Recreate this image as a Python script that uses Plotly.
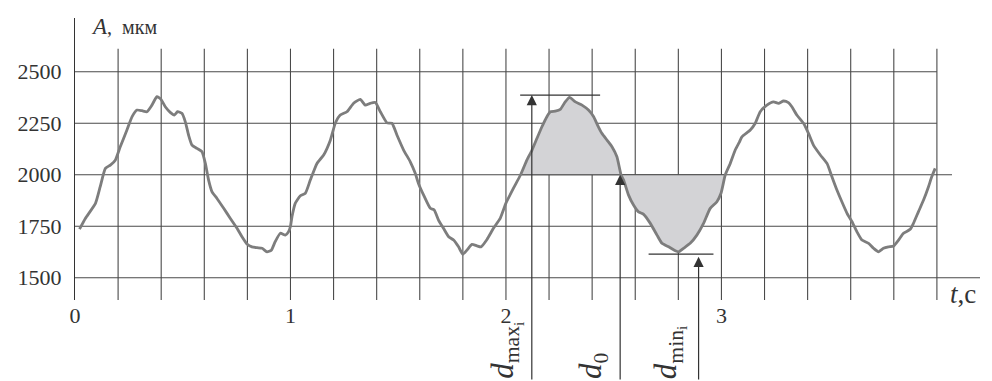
import plotly.graph_objects as go

# ---------------- data ----------------
t_vals = [0.021, 0.048, 0.095, 0.117, 0.141, 0.164, 0.187, 0.210, 0.241, 0.265, 0.288, 0.311, 0.334,
          0.357, 0.380, 0.399, 0.419, 0.442, 0.461, 0.476, 0.496, 0.512, 0.527, 0.543, 0.566, 0.589,
          0.605, 0.620, 0.636, 0.659, 0.690, 0.721, 0.752, 0.775, 0.798, 0.821, 0.845, 0.868, 0.891,
          0.911, 0.929, 0.953, 0.976, 0.991, 1.000,
          1.007, 1.022, 1.045, 1.069, 1.092, 1.123, 1.154, 1.185, 1.208, 1.231, 1.262, 1.293, 1.324,
          1.347, 1.370, 1.394, 1.417, 1.448, 1.471, 1.494, 1.525, 1.556, 1.579, 1.594, 1.618, 1.649,
          1.667, 1.687, 1.710, 1.734, 1.757, 1.780, 1.800, 1.819, 1.842, 1.865, 1.884, 1.912, 1.942,
          1.974, 2.000, 2.035, 2.068,
          2.097, 2.121, 2.144, 2.167, 2.190, 2.206, 2.229, 2.252, 2.275, 2.295, 2.322, 2.353, 2.383,
          2.407, 2.425, 2.445, 2.469, 2.492, 2.515, 2.534, 2.546, 2.569, 2.592, 2.615, 2.639, 2.670,
          2.701, 2.724, 2.755, 2.786, 2.801, 2.824, 2.855, 2.886, 2.917, 2.948, 2.979, 2.998, 3.018,
          3.041, 3.064, 3.084,
          3.095, 3.134, 3.157, 3.180, 3.211, 3.242, 3.265, 3.288, 3.311, 3.327, 3.350, 3.381, 3.404,
          3.427, 3.459, 3.490, 3.513, 3.536, 3.559, 3.583, 3.606, 3.629, 3.652, 3.683, 3.706, 3.729,
          3.752, 3.775, 3.799, 3.822, 3.845, 3.876, 3.891, 3.914, 3.938, 3.961, 3.976, 3.992]
a_vals = [1736, 1788, 1861, 1942, 2031, 2047, 2071, 2136, 2217, 2282, 2314, 2311, 2306,
          2338, 2379, 2366, 2330, 2303, 2290, 2306, 2298, 2257, 2193, 2144, 2128, 2112,
          2055, 1974, 1917, 1885, 1837, 1788, 1740, 1699, 1664, 1650, 1646, 1643, 1626,
          1634, 1675, 1716, 1707, 1723, 1750,
          1796, 1861, 1897, 1910, 1974, 2055, 2096, 2168, 2250, 2290, 2306, 2347, 2366,
          2338, 2347, 2351, 2306, 2252, 2250, 2193, 2120, 2063, 2007, 1958, 1901, 1837,
          1829, 1780, 1740, 1699, 1683, 1650, 1614, 1634, 1662, 1655, 1650, 1686, 1740,
          1790, 1862, 1935, 2000,
          2071, 2120, 2177, 2233, 2282, 2306, 2309, 2317, 2354, 2376, 2354, 2338, 2314,
          2282, 2241, 2201, 2168, 2136, 2087, 2000, 1974, 1901, 1853, 1820, 1808, 1764,
          1707, 1667, 1650, 1631, 1626, 1643, 1667, 1707, 1764, 1837, 1869, 1910, 2000,
          2055, 2120, 2160,
          2184, 2217, 2250, 2306, 2338, 2354, 2347, 2358, 2350, 2330, 2290, 2250, 2201,
          2144, 2096, 2055, 1990, 1926, 1869, 1813, 1772, 1723, 1683, 1667, 1643, 1626,
          1643, 1650, 1654, 1683, 1716, 1735, 1764, 1820, 1877, 1942, 1990, 2031]

y_ticks = [1500, 1750, 2000, 2250, 2500]
y_tick_text = ["1500", "1750", "2000", "2250", "2500"]
x_ticks = [0, 1, 2, 3]
x_tick_text = ["0", "1", "2", "3"]

grid_t = [0.2, 0.4, 0.6, 0.8, 1.0, 1.2, 1.4, 1.6, 1.8, 2.0, 2.2, 2.4, 2.6, 2.8, 3.0,
          3.2, 3.4, 3.6, 3.8, 4.0]
grid_a = [1500, 1750, 2000, 2250, 2500]
grid_a_end = [4.2, 4.0, 4.07, 4.0, 4.0]
grid_v_top = 2612

fill_start, fill_end = 2.068, 3.018
d0_t, d0_a = 2.530, 2000
dmax_t, dmax_a = 2.120, 2387
dmax_line_t = [2.066, 2.437]
dmin_t, dmin_a = 2.894, 1615
dmin_line_t = [2.662, 2.963]

X_RANGE = [0, 4.2]
Y_RANGE = [1392, 2761]

# ---------------- figure ----------------
GRID = "#4a4a4a"
INK = "#333333"
CURVE = "#7d7d7d"
FILL = "#d3d3d6"
FONT = "Liberation Serif"

# the page body has an 8px default margin: lay the figure out in page pixels minus 8
OFF = 8
PAGE_W, PAGE_H = 992, 381
W, H = PAGE_W - OFF, PAGE_H - OFF
ML, MT = 75 - OFF, 18 - OFF
MR = W - (979.8 - OFF)
MB = H - (300 - OFF)
plot_h = H - MT - MB
plot_w = W - ML - MR

fig = go.Figure()

# vertical grid lines
gx, gy = [], []
for t in grid_t:
    gx += [t, t, None]
    gy += [Y_RANGE[0], grid_v_top, None]
fig.add_trace(go.Scatter(x=gx, y=gy, mode="lines", line=dict(color=GRID, width=1.1),
                         hoverinfo="skip", showlegend=False))
# horizontal grid lines
hx, hy = [], []
for a, e in zip(grid_a, grid_a_end):
    hx += [0, e, None]
    hy += [a, a, None]
fig.add_trace(go.Scatter(x=hx, y=hy, mode="lines", line=dict(color=GRID, width=1.1),
                         hoverinfo="skip", showlegend=False))

# shaded area between curve and 2000
ft = [t for t in t_vals if fill_start <= t <= fill_end]
fa = [a for t, a in zip(t_vals, a_vals) if fill_start <= t <= fill_end]
fig.add_trace(go.Scatter(x=ft, y=fa, mode="lines", fill="toself", fillcolor=FILL,
                         line=dict(width=0, shape="spline", smoothing=0.5),
                         hoverinfo="skip", showlegend=False))
# re-draw the 2000 line over the fill
fig.add_trace(go.Scatter(x=[fill_start, fill_end], y=[2000, 2000], mode="lines",
                         line=dict(color=GRID, width=1.1), hoverinfo="skip", showlegend=False))

# curve
fig.add_trace(go.Scatter(x=t_vals, y=a_vals, mode="lines",
                         line=dict(color=CURVE, width=2.8, shape="spline", smoothing=0.5),
                         showlegend=False))

# dmax / dmin horizontal markers
fig.add_trace(go.Scatter(x=dmax_line_t, y=[dmax_a, dmax_a], mode="lines",
                         line=dict(color=INK, width=1.2), showlegend=False, hoverinfo="skip"))
fig.add_trace(go.Scatter(x=dmin_line_t, y=[dmin_a, dmin_a], mode="lines",
                         line=dict(color=INK, width=1.2), showlegend=False, hoverinfo="skip"))


def ypix(a):  # figure pixel
    return MT + (Y_RANGE[1] - a) / (Y_RANGE[1] - Y_RANGE[0]) * plot_h


def paper_y(page_px):
    return (H - MB - (page_px - OFF)) / plot_h


def paper_x(page_px):
    return ((page_px - OFF) - ML) / plot_w


anns = []
# arrows from the bottom edge
for t, a in [(dmax_t, dmax_a), (d0_t, d0_a), (dmin_t, dmin_a - 13)]:
    anns.append(dict(x=t, y=a, xref="x", yref="y", text="", showarrow=True,
                     ax=0, ay=H + 4 - ypix(a), axref="pixel", ayref="pixel",
                     arrowhead=2, arrowsize=1.7, arrowwidth=1.2, arrowcolor=INK,
                     standoff=0, startstandoff=0))

# rotated labels
for t, txt in [(2.104, "<i>d</i><sub>max<sub>i</sub></sub>"),
               (2.504, "<i>d</i><sub>0</sub>"),
               (2.862, "<i>d</i><sub>min<sub>i</sub></sub>")]:
    anns.append(dict(x=t, y=paper_y(PAGE_H), xref="x", yref="paper", text=txt,
                     showarrow=False, textangle=-90, xanchor="right", yanchor="bottom",
                     font=dict(family=FONT, size=31, color=INK)))

# axis titles
anns.append(dict(x=paper_x(89), y=paper_y(26), xref="paper", yref="paper",
                 text="<i>A</i><span style='font-size:20px'>,  мкм</span>", showarrow=False,
                 xanchor="left", yanchor="middle", font=dict(family=FONT, size=23, color=INK)))
anns.append(dict(x=paper_x(948), y=paper_y(294), xref="paper", yref="paper",
                 text="<i>t</i>,c", showarrow=False, xanchor="left", yanchor="middle",
                 font=dict(family=FONT, size=27, color=INK)))

fig.update_layout(
    width=W, height=H,
    margin=dict(l=ML, r=MR, t=MT, b=MB, pad=0, autoexpand=False),
    paper_bgcolor="white", plot_bgcolor="white",
    annotations=anns,
    xaxis=dict(range=X_RANGE, showgrid=False, zeroline=False, showline=False, automargin=False,
               tickvals=x_ticks, ticktext=x_tick_text, ticks="", ticklabelstandoff=0,
               tickfont=dict(family=FONT, size=22, color=INK), fixedrange=True),
    yaxis=dict(range=Y_RANGE, showgrid=False, zeroline=False, showline=True, automargin=False,
               linecolor=INK, linewidth=1.3,
               tickvals=y_ticks, ticktext=y_tick_text, ticks="", ticklabelstandoff=8,
               tickfont=dict(family=FONT, size=22, color=INK), fixedrange=True),
    showlegend=False,
)

fig.write_html("out.html")
